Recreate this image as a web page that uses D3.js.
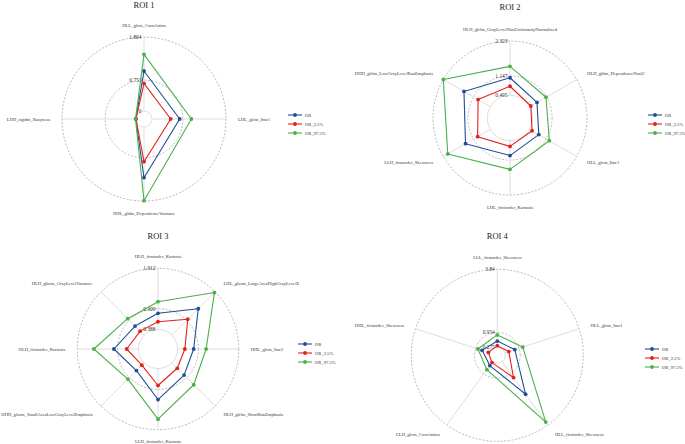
<!DOCTYPE html>
<html><head><meta charset="utf-8">
<script src="https://cdn.jsdelivr.net/npm/d3@7"></script>
<style>html,body{margin:0;padding:0;background:#fff;}svg{display:block;font-family:"Liberation Serif","Times New Roman",serif;}</style>
</head><body>
<svg id="chart" width="685" height="444"></svg>
<script>
// ---------- data ----------
const seriesNames = ["OR", "OR_2.5%", "OR_97.5%"];
const roiTitles = ["ROI 1", "ROI 2", "ROI 3", "ROI 4"];

const roi1Axes = ["HLL_glcm_Correlation", "LHL_glcm_Imc1", "HHL_gldm_DependenceVariance", "LHH_ngtdm_Busyness"];
const roi1OR   = [0.975, 0.675, 1.236, 0.004];
const roi1Low  = [0.675, 0.456, 0.846, 0.0];
const roi1High = [1.382, 0.960, 1.796, 0.012];
const roi1Ticks = [0, 0.753, 1.804];
const roi1TickLabels = ["0", "0.753", "1.804"];

const roi2Axes = ["HLH_glrlm_GrayLevelNonUniformityNormalized", "HLH_gldm_DependenceNonU", "HLL_glcm_Imc1", "LHL_firstorder_Kurtosis", "LLH_firstorder_Skewness", "HHH_glrlm_LowGrayLevelRunEmphasis"];
const roi2OR   = [1.085, 0.78, 0.85, 0.996, 1.46, 1.52];
const roi2Low  = [0.80, 0.54, 0.59, 0.686, 0.99, 0.97];
const roi2High = [1.47, 1.13, 1.26, 1.46, 2.15, 2.323];
const roi2Ticks = [0.495, 1.147, 2.323];
const roi2TickLabels = ["0.495", "1.147", "2.323"];

const roi3Axes = ["HLH_firstorder_Kurtosis", "LHL_glszm_LargeAreaHighGrayLevelE", "HHL_glcm_Imc2", "HLH_glrlm_ShortRunEmphasis", "LLH_firstorder_Kurtosis", "HHH_glszm_SmallAreaLowGrayLevelEmphasis", "HLH_firstorder_Kurtosis", "HLH_glszm_GrayLevelVariance"];
const roi3OR   = [0.79, 1.32, 0.79, 0.82, 1.16, 0.66, 1.00, 0.71];
const roi3Low  = [0.58, 0.95, 0.57, 0.58, 0.81, 0.47, 0.68, 0.53];
const roi3High = [1.08, 1.89, 1.10, 1.16, 1.65, 0.96, 1.50, 0.97];
const roi3Ticks = [0.388, 0.909, 1.912];
const roi3TickLabels = ["0.388", "0.909", "1.912"];

const roi4Axes = ["LLL_firstorder_Skewness", "HLL_glcm_Imc1", "HLL_firstorder_Skewness", "LLH_glcm_Correlation", "HHL_firstorder_Skewness"];
const roi4OR   = [0.56, 0.75, 2.11, 0.49, 0.64];
const roi4Low  = [0.35, 0.46, 1.17, 0.32, 0.34];
const roi4High = [0.84, 1.13, 3.68, 0.72, 0.84];
const roi4Ticks = [0.275, 0.954, 3.84];
const roi4TickLabels = ["0.275", "0.954", "3.84"];

// ---------- layout / style ----------
const colors = ["#1f4e96", "#e3201c", "#4bb04a"];
const panels = [
  {title: roiTitles[0], axes: roi1Axes, series: [roi1OR, roi1Low, roi1High], ticks: roi1Ticks, tickLabels: roi1TickLabels,
   cx: 144, cy: 119, r0: 8, R: 82, titleY: 8, legX: 288, legY: 115},
  {title: roiTitles[1], axes: roi2Axes, series: [roi2OR, roi2Low, roi2High], ticks: roi2Ticks, tickLabels: roi2TickLabels,
   cx: 510, cy: 118, r0: 8, R: 77, titleY: 10, legX: 648, legY: 115},
  {title: roiTitles[2], axes: roi3Axes, series: [roi3OR, roi3Low, roi3High], ticks: roi3Ticks, tickLabels: roi3TickLabels,
   cx: 158, cy: 349, r0: 4, R: 80.7, titleY: 239, legX: 298, legY: 344},
  {title: roiTitles[3], axes: roi4Axes, series: [roi4OR, roi4Low, roi4High], ticks: roi4Ticks, tickLabels: roi4TickLabels,
   cx: 497.3, cy: 355.3, r0: 2, R: 86, titleY: 239, legX: 645, legY: 349}
];

const svg = d3.select("#chart");

panels.forEach(p => {
  const g = svg.append("g").attr("transform", `translate(${p.cx},${p.cy})`);
  const n = p.axes.length;
  const angle = d3.scaleLinear().domain([0, n]).range([0, 2 * Math.PI]);
  const r = d3.scaleLinear().domain([0, p.ticks[2]]).range([p.r0, p.R]);
  const px = (i, v) => r(v) * Math.sin(angle(i));
  const py = (i, v) => -r(v) * Math.cos(angle(i));

  // rings
  g.selectAll("circle.ring").data(p.ticks).join("circle")
    .attr("class", "ring")
    .attr("r", d => r(d))
    .attr("fill", "none")
    .attr("stroke", (d, i) => i === 0 ? "#cfcfcf" : (i === 1 ? "#a99b9b" : "#9a9a9a"))
    .attr("stroke-width", 0.7)
    .attr("stroke-dasharray", (d, i) => i === 0 ? null : "2,1.6");

  // axis lines
  g.selectAll("line.axis").data(p.axes).join("line")
    .attr("class", "axis")
    .attr("x1", (d, i) => px(i, p.ticks[0])).attr("y1", (d, i) => py(i, p.ticks[0]))
    .attr("x2", (d, i) => px(i, p.ticks[2])).attr("y2", (d, i) => py(i, p.ticks[2]))
    .attr("stroke", "#d4d4d4").attr("stroke-width", 0.8);

  // axis names
  const gap = 12;
  g.selectAll("text.axname").data(p.axes).join("text")
    .attr("class", "axname")
    .attr("x", (d, i) => (p.R + gap) * Math.sin(angle(i)))
    .attr("y", (d, i) => -(p.R + gap) * Math.cos(angle(i)))
    .attr("text-anchor", (d, i) => { const s = Math.sin(angle(i)); return s > 0.01 ? "start" : (s < -0.01 ? "end" : "middle"); })
    .attr("dominant-baseline", "central")
    .attr("font-size", 4.6).attr("fill", "#3a3a3a")
    .text(d => d);

  // tick labels
  g.selectAll("text.tick").data(p.ticks).join("text")
    .attr("class", "tick")
    .attr("x", -2.5)
    .attr("y", d => -r(d))
    .attr("text-anchor", "end")
    .attr("dominant-baseline", "central")
    .attr("font-size", 5.4).attr("fill", "#333")
    .text((d, i) => p.tickLabels[i]);

  // series
  const line = d3.lineRadial().angle((d, i) => angle(i)).radius(d => r(d)).curve(d3.curveLinearClosed);
  p.series.forEach((vals, si) => {
    const sg = g.append("g");
    sg.append("path").attr("d", line(vals))
      .attr("fill", "none").attr("stroke", colors[si]).attr("stroke-width", 1.1).attr("stroke-linejoin", "round");
    sg.selectAll("circle").data(vals).join("circle")
      .attr("cx", (d, i) => px(i, d)).attr("cy", (d, i) => py(i, d))
      .attr("r", 1.9).attr("fill", colors[si]);
  });

  // title
  svg.append("text")
    .attr("x", p.cx).attr("y", p.titleY)
    .attr("text-anchor", "middle")
    .attr("font-size", 8.5).attr("fill", "#222")
    .text(p.title);

  // legend
  const lg = svg.append("g").attr("transform", `translate(${p.legX},${p.legY})`);
  seriesNames.forEach((name, si) => {
    const row = lg.append("g").attr("transform", `translate(0,${si * 9})`);
    row.append("line").attr("x1", 0).attr("x2", 14).attr("y1", 0).attr("y2", 0)
      .attr("stroke", colors[si]).attr("stroke-width", 1.1);
    row.append("circle").attr("cx", 7).attr("cy", 0).attr("r", 1.9).attr("fill", colors[si]);
    row.append("text").attr("x", 17).attr("y", 0).attr("dominant-baseline", "central")
      .attr("font-size", 4.6).attr("fill", "#333").text(name);
  });
});
</script>
</body></html>
